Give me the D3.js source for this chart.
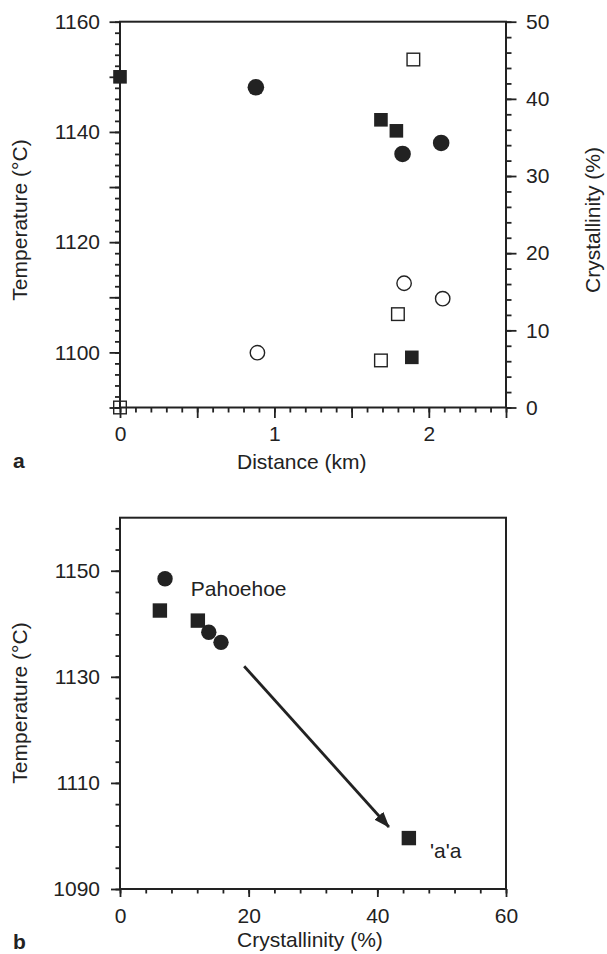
<!DOCTYPE html>
<html>
<head>
<meta charset="utf-8">
<script src="https://cdn.jsdelivr.net/npm/d3@7"></script>
<style>
  html, body { margin: 0; padding: 0; background: #fff; }
  svg text { font-family: "Liberation Sans", Arial, Helvetica, sans-serif; fill: #222; }
</style>
</head>
<body>
<div id="chart"></div>
<script>
// ---- panel a: distance vs temperature (filled) and crystallinity (open)
const aSqDist = [0, 1.69, 1.79, 1.89];
const aSqTemp = [1150, 1142.2, 1140.2, 1099.1];
const aCiDist = [0.88, 1.83, 2.08];
const aCiTemp = [1148.1, 1136.0, 1138.0];
const aOpenSqDist = [0, 1.69, 1.80, 1.90];
const aOpenSqCryst = [0, 6.1, 12.1, 45.1];
const aOpenCiDist = [0.89, 1.84, 2.09];
const aOpenCiCryst = [7.1, 16.1, 14.1];

// ---- panel b: crystallinity vs temperature
const bSqCryst = [6.2, 12.1, 44.9];
const bSqTemp = [1142.5, 1140.6, 1099.6];
const bCiCryst = [7.0, 13.8, 15.7];
const bCiTemp = [1148.5, 1138.4, 1136.5];
const bArrow = [[19.3, 1132], [41.8, 1101.7]];
const bLabels = [
  { text: "Pahoehoe", cryst: 11.0, temp: 1145.3 },
  { text: "'a'a", cryst: 48.2, temp: 1095.8 }
];

const ink = "#222";
const fontSize = "21px";

const svg = d3.select("#chart").append("svg")
  .attr("width", 607)
  .attr("height", 954);

// build an axis pair (minor + major) on a group
function ticksAxis(g, axisFn, scale, minorVals, majorVals, labelVals, minorLen, majorLen, pad, fmt) {
  const minor = g.append("g").call(axisFn(scale).tickValues(minorVals).tickSize(minorLen).tickSizeOuter(0).tickFormat(() => ""));
  const major = g.append("g").call(axisFn(scale).tickValues(majorVals).tickSize(majorLen).tickSizeOuter(0).tickPadding(pad)
    .tickFormat(d => labelVals.some(v => Math.abs(v - d) < 1e-9) ? fmt(d) : ""));
  [minor, major].forEach(s => {
    s.select(".domain").remove();
    s.selectAll("line").attr("stroke", ink).attr("stroke-width", 1.8);
    s.selectAll("text").style("font-size", fontSize).attr("fill", ink);
  });
}

const range = (a, b, s) => d3.range(a, b + s / 2, s).map(v => +v.toFixed(4));

// ===== Panel a =====
{
  const L = 120, R = 506, T = 21.7, B = 407.5;
  const x = d3.scaleLinear().domain([0, 2.5]).range([L, R]);
  const yT = d3.scaleLinear().domain([1090, 1160]).range([B, T]);
  const yC = d3.scaleLinear().domain([0, 50]).range([B, T]);

  const gl = svg.append("g").attr("transform", `translate(${L},0)`);
  ticksAxis(gl, d3.axisLeft, yT, range(1090, 1160, 2), range(1090, 1160, 10), [1100, 1120, 1140, 1160], 5, 10.5, 9.5, d3.format("d"));
  const gr = svg.append("g").attr("transform", `translate(${R},0)`);
  ticksAxis(gr, d3.axisRight, yC, range(0, 50, 2), range(0, 50, 10), range(0, 50, 10), 5.5, 10.5, 9.5, d3.format("d"));
  const gb = svg.append("g").attr("transform", `translate(0,${B})`);
  ticksAxis(gb, d3.axisBottom, x, range(0, 2.5, 0.1), range(0, 2.5, 0.5), [0, 1, 2], 5, 10.5, 8.5, d3.format("d"));

  svg.append("rect").attr("x", L).attr("y", T).attr("width", R - L).attr("height", B - T)
    .attr("fill", "none").attr("stroke", ink).attr("stroke-width", 2);

  const m = svg.append("g");
  m.selectAll(".oc").data(aOpenCiDist).enter().append("circle")
    .attr("cx", d => x(d)).attr("cy", (d, i) => yC(aOpenCiCryst[i])).attr("r", 7.2)
    .attr("fill", "#fff").attr("stroke", ink).attr("stroke-width", 1.4);
  m.selectAll(".os").data(aOpenSqDist).enter().append("rect")
    .attr("x", d => x(d) - 6.3).attr("y", (d, i) => yC(aOpenSqCryst[i]) - 6.3)
    .attr("width", 12.6).attr("height", 12.6)
    .attr("fill", "none").attr("stroke", ink).attr("stroke-width", 1.4);
  m.selectAll(".fc").data(aCiDist).enter().append("circle")
    .attr("cx", d => x(d)).attr("cy", (d, i) => yT(aCiTemp[i])).attr("r", 8.3)
    .attr("fill", ink);
  m.selectAll(".fs").data(aSqDist).enter().append("rect")
    .attr("x", d => x(d) - 6.8).attr("y", (d, i) => yT(aSqTemp[i]) - 6.8)
    .attr("width", 13.6).attr("height", 13.6).attr("fill", ink);

  svg.append("text").attr("transform", "translate(27,220) rotate(-90)")
    .attr("text-anchor", "middle").style("font-size", fontSize).text("Temperature (°C)");
  svg.append("text").attr("transform", "translate(600,220) rotate(-90)")
    .attr("text-anchor", "middle").style("font-size", fontSize).text("Crystallinity (%)");
  svg.append("text").attr("x", 237).attr("y", 469).style("font-size", fontSize).text("Distance (km)");
  svg.append("text").attr("x", 13).attr("y", 468).style("font-size", fontSize).style("font-weight", "bold").text("a");
}

// ===== Panel b =====
{
  const L = 120, R = 506, T = 517.7, B = 889;
  const x = d3.scaleLinear().domain([0, 60]).range([L, R]);
  const y = d3.scaleLinear().domain([1090, 1160]).range([B, T]);

  const gl = svg.append("g").attr("transform", `translate(${L},0)`);
  ticksAxis(gl, d3.axisLeft, y, range(1090, 1158, 4), [1090, 1110, 1130, 1150], [1090, 1110, 1130, 1150], 4.5, 9, 11, d3.format("d"));
  const gb = svg.append("g").attr("transform", `translate(0,${B})`);
  ticksAxis(gb, d3.axisBottom, x, range(0, 60, 4), [0, 20, 40, 60], [0, 20, 40, 60], 4.5, 8, 11, d3.format("d"));

  svg.append("rect").attr("x", L).attr("y", T).attr("width", R - L).attr("height", B - T)
    .attr("fill", "none").attr("stroke", ink).attr("stroke-width", 2);

  svg.append("defs").append("marker")
    .attr("id", "head").attr("viewBox", "0 0 16 12").attr("refX", 15).attr("refY", 6)
    .attr("markerWidth", 16).attr("markerHeight", 12).attr("markerUnits", "userSpaceOnUse")
    .attr("orient", "auto")
    .append("path").attr("d", "M0,0L16,6L0,12Z").attr("fill", ink);

  svg.append("line")
    .attr("x1", x(bArrow[0][0])).attr("y1", y(bArrow[0][1]))
    .attr("x2", x(bArrow[1][0])).attr("y2", y(bArrow[1][1]))
    .attr("stroke", ink).attr("stroke-width", 2.8).attr("marker-end", "url(#head)");

  svg.selectAll(".bc").data(bCiCryst).enter().append("circle")
    .attr("cx", d => x(d)).attr("cy", (d, i) => y(bCiTemp[i])).attr("r", 7.7).attr("fill", ink);
  svg.selectAll(".bs").data(bSqCryst).enter().append("rect")
    .attr("x", d => x(d) - 7.2).attr("y", (d, i) => y(bSqTemp[i]) - 7.2)
    .attr("width", 14.4).attr("height", 14.4).attr("fill", ink);

  svg.selectAll(".bl").data(bLabels).enter().append("text")
    .attr("x", d => x(d.cryst)).attr("y", d => y(d.temp))
    .style("font-size", fontSize).text(d => d.text);

  svg.append("text").attr("transform", "translate(27,703) rotate(-90)")
    .attr("text-anchor", "middle").style("font-size", fontSize).text("Temperature (°C)");
  svg.append("text").attr("x", 237).attr("y", 947).style("font-size", fontSize).text("Crystallinity (%)");
  svg.append("text").attr("x", 13).attr("y", 949).style("font-size", fontSize).style("font-weight", "bold").text("b");
}
</script>
</body>
</html>
